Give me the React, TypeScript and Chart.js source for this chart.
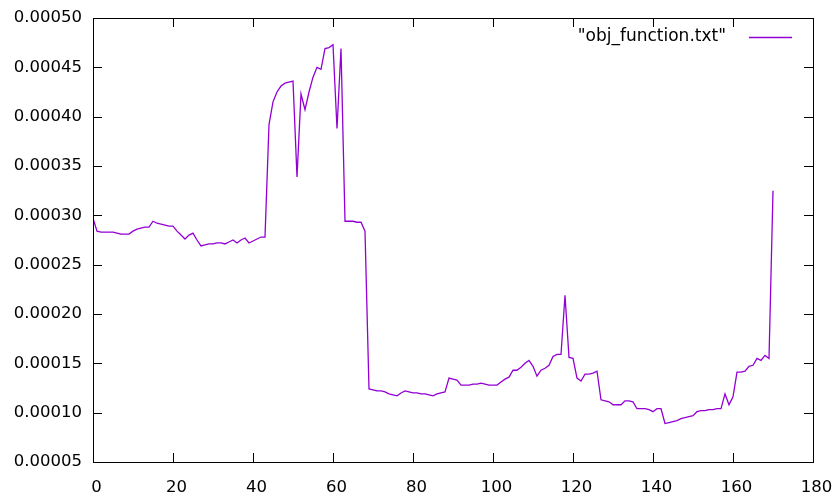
import { useEffect, useRef } from 'react';
import { Chart, registerables } from 'chart.js';

Chart.register(...registerables);

const seriesLabel = '"obj_function.txt"';
const lineColor = '#9400D3';

const objValues = [
  0.000297, 0.000284, 0.000283, 0.000283, 0.000283, 0.000283, 0.000282, 0.000281, 0.000281, 0.000281,
  0.000284, 0.000286, 0.000287, 0.000288, 0.000288, 0.000294, 0.000292, 0.000291, 0.000290, 0.000289,
  0.000289, 0.000284, 0.000280, 0.000276, 0.000280, 0.000282, 0.000275, 0.000269, 0.000270, 0.000271,
  0.000271, 0.000272, 0.000272, 0.000271, 0.000273, 0.000275, 0.000272, 0.000275, 0.000277, 0.000272,
  0.000274, 0.000276, 0.000278, 0.000278, 0.000392, 0.000415, 0.000425, 0.000431, 0.000434, 0.000435,
  0.000436, 0.000339, 0.000423, 0.000407, 0.000425, 0.000440, 0.000450, 0.000448, 0.000469, 0.000470,
  0.000473, 0.000388, 0.000469, 0.000294, 0.000294, 0.000294, 0.000293, 0.000293, 0.000284, 0.000124,
  0.000123, 0.000122, 0.000122, 0.000121, 0.000119, 0.000118, 0.000117, 0.000120, 0.000122, 0.000121,
  0.000120, 0.000120, 0.000119, 0.000119, 0.000118, 0.000117, 0.000119, 0.000120, 0.000121, 0.000135,
  0.000134, 0.000133, 0.000128, 0.000128, 0.000128, 0.000129, 0.000129, 0.000130, 0.000129, 0.000128,
  0.000128, 0.000128, 0.000131, 0.000134, 0.000136, 0.000143, 0.000143, 0.000146, 0.000150, 0.000153,
  0.000147, 0.000137, 0.000143, 0.000145, 0.000148, 0.000157, 0.000159, 0.000159, 0.000219, 0.000156,
  0.000155, 0.000135, 0.000132, 0.000139, 0.000139, 0.000140, 0.000142, 0.000113, 0.000112, 0.000111,
  0.000108, 0.000108, 0.000108, 0.000112, 0.000112, 0.000111, 0.000104, 0.000104, 0.000104, 0.000103,
  0.000101, 0.000104, 0.000104, 0.000089, 0.000090, 0.000091, 0.000092, 0.000094, 0.000095, 0.000096,
  0.000097, 0.000101, 0.000102, 0.000102, 0.000103, 0.000103, 0.000104, 0.000104, 0.000119, 0.000108,
  0.000116, 0.000141, 0.000141, 0.000142, 0.000147, 0.000148, 0.000155, 0.000153, 0.000158, 0.000155,
  0.000325,
];

const xTicks = [0, 20, 40, 60, 80, 100, 120, 140, 160, 180];
const yTicks = [0.00005, 0.0001, 0.00015, 0.0002, 0.00025, 0.0003, 0.00035, 0.0004, 0.00045, 0.0005];

const FONT_FAMILY = '"DejaVu Sans", sans-serif';
const TICK_FONT = { family: FONT_FAMILY, size: 16.5 };

const framePlugin = {
  id: 'gnuplotFrame',
  afterDraw(chart: any) {
    const { ctx, chartArea } = chart;
    const { left, right, top, bottom } = chartArea;
    const xs = chart.scales.x;
    const ys = chart.scales.y;
    const tl = 9;
    ctx.save();
    ctx.strokeStyle = '#000';
    ctx.lineWidth = 1;
    ctx.beginPath();
    xTicks.forEach((v) => {
      const px = Math.round(xs.getPixelForValue(v)) + 0.5;
      ctx.moveTo(px, bottom);
      ctx.lineTo(px, bottom - tl);
      ctx.moveTo(px, top);
      ctx.lineTo(px, top + tl);
    });
    yTicks.forEach((v) => {
      const py = Math.round(ys.getPixelForValue(v)) + 0.5;
      ctx.moveTo(left, py);
      ctx.lineTo(left + tl, py);
      ctx.moveTo(right, py);
      ctx.lineTo(right - tl, py);
    });
    ctx.stroke();
    ctx.strokeRect(Math.round(left) + 0.5, Math.round(top) + 0.5, Math.round(right - left), Math.round(bottom - top));

    // key
    const ky = top + 19;
    ctx.font = `17px ${FONT_FAMILY}`;
    ctx.fillStyle = '#000';
    ctx.textAlign = 'right';
    ctx.textBaseline = 'middle';
    ctx.fillText(seriesLabel, right - 87, ky);
    ctx.strokeStyle = lineColor;
    ctx.lineWidth = 1.3;
    ctx.beginPath();
    ctx.moveTo(right - 64, ky + 0.5);
    ctx.lineTo(right - 21, ky + 0.5);
    ctx.stroke();
    ctx.restore();
  },
};

export default function App() {
  const ref = useRef<HTMLCanvasElement | null>(null);

  useEffect(() => {
    if (!ref.current) return;
    const chart = new Chart(ref.current, {
      type: 'line',
      data: {
        datasets: [
          {
            label: seriesLabel,
            data: objValues.map((v, i) => ({ x: i, y: v })),
            borderColor: lineColor,
            borderWidth: 1.3,
            pointRadius: 0,
            tension: 0,
            fill: false,
          },
        ],
      },
      options: {
        responsive: false,
        animation: false,
        devicePixelRatio: 1,
        layout: { padding: { top: 18, right: 20, left: 0, bottom: 0 } },
        plugins: { legend: { display: false }, tooltip: { enabled: false } },
        scales: {
          x: {
            type: 'linear',
            min: 0,
            max: 180,
            afterBuildTicks: (s: any) => {
              s.ticks = xTicks.map((v) => ({ value: v }));
            },
            afterFit: (s: any) => {
              s.height = 36;
              s.paddingLeft = 0;
              s.paddingRight = 0;
            },
            grid: { display: false, drawTicks: false },
            border: { display: false },
            ticks: {
              color: '#000',
              font: TICK_FONT,
              padding: 16,
              labelOffset: 3.5,
              maxRotation: 0,
              autoSkip: false,
              callback: (v: any) => String(v),
            },
          },
          y: {
            type: 'linear',
            min: 0.00005,
            max: 0.0005,
            afterBuildTicks: (s: any) => {
              s.ticks = yTicks.map((v) => ({ value: v }));
            },
            afterFit: (s: any) => {
              s.width = 93;
              s.paddingTop = 0;
              s.paddingBottom = 0;
            },
            grid: { display: false, drawTicks: false },
            border: { display: false },
            ticks: {
              color: '#000',
              font: TICK_FONT,
              padding: 11,
              autoSkip: false,
              callback: (v: any) => Number(v).toFixed(5),
            },
          },
        },
      },
      plugins: [framePlugin],
    });
    return () => chart.destroy();
  }, []);

  return (
    <div style={{ position: 'absolute', left: 0, top: 0, width: 833, height: 498 }}>
      <canvas ref={ref} width={833} height={498} style={{ display: 'block' }} />
    </div>
  );
}
